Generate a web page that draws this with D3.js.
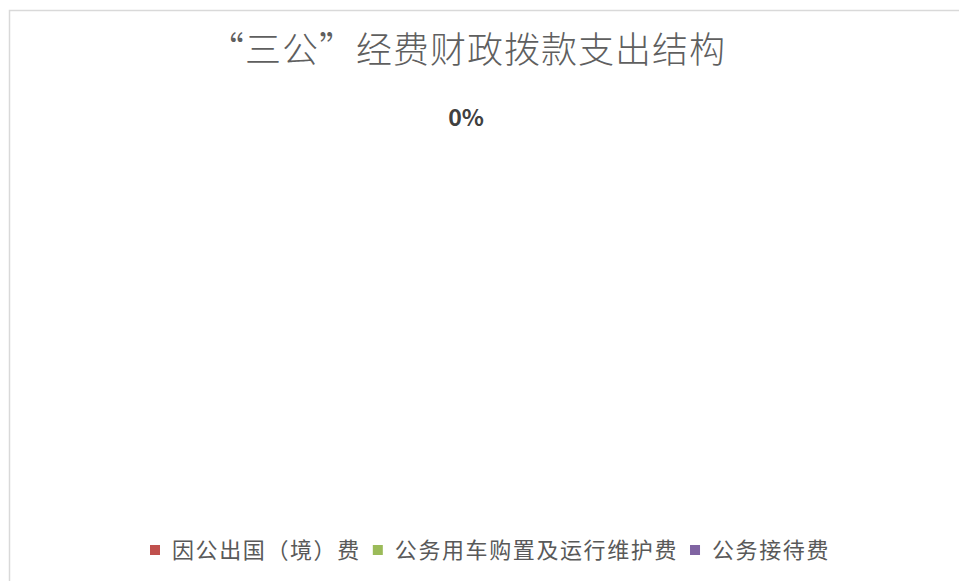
<!DOCTYPE html>
<html lang="zh">

<head>
  <meta charset="UTF-8">
  <title>“三公”经费财政拨款支出结构</title>
  <script src="https://d3js.org/d3.v7.min.js"></script>
  <style>
    body {
      margin: 0;
      background: #ffffff;
    }

    text {
      font-family: "Noto Sans CJK SC", "Noto Sans", sans-serif;
    }
  </style>
</head>

<body>
  <svg width="959" height="581"></svg>
  <script>
    // 数据
    const categories = ["因公出国（境）费", "公务用车购置及运行维护费", "公务接待费"];
    const values = [0, 0, 0];
    const colors = ["#C0504D", "#9BBB59", "#8064A2"];
    const titleText = "“三公”经费财政拨款支出结构";

    const svg = d3.select("svg"),
      width = +svg.attr("width"),
      height = +svg.attr("height");

    // 图表边框
    svg.append("path")
      .attr("d", "M9.5,581 V10.5 H959")
      .attr("fill", "none")
      .attr("stroke", "#d9d9d9")
      .attr("stroke-width", 1.5);

    // 标题
    svg.append("text")
      .attr("x", 467)
      .attr("y", 63)
      .attr("text-anchor", "middle")
      .attr("font-size", 36)
      .attr("font-weight", 300)
      .attr("letter-spacing", 1)
      .attr("fill", "#5f5f5f")
      .text(titleText);

    const cx = 466, cy = 315, r = 180;
    const data = categories.map((c, i) => ({ name: c, value: values[i], color: colors[i] }));

    const pie = d3.pie().value(d => d.value).sort(null);
    // 全部为 0 时 d3.pie 给出零宽扇区
    const arcs = pie(data);
    const arc = d3.arc().innerRadius(0).outerRadius(r);
    const labelArc = d3.arc().innerRadius(r + 17).outerRadius(r + 17);

    const g = svg.append("g").attr("transform", `translate(${cx},${cy})`);

    g.selectAll("path.slice")
      .data(arcs)
      .enter()
      .append("path")
      .attr("class", "slice")
      .attr("d", arc)
      .attr("fill", d => d.data.color)
      .attr("stroke", "#ffffff");

    const total = d3.sum(values);
    const seen = new Set();
    const labels = arcs.filter(d => {
      const key = labelArc.centroid(d).map(v => Math.round(v)).join(",");
      if (seen.has(key)) return false;
      seen.add(key);
      return true;
    });

    g.selectAll("text.label")
      .data(labels)
      .enter()
      .append("text")
      .attr("class", "label")
      .attr("transform", d => `translate(${labelArc.centroid(d)})`)
      .attr("text-anchor", "middle")
      .attr("dy", "0.35em")
      .attr("font-size", 23)
      .attr("font-weight", "bold")
      .attr("fill", "#404040")
      .text(d => d3.format(".0%")(total ? d.value / total : 0));

    // 图例
    const legend = svg.append("g").attr("transform", "translate(150,550)");
    let lx = 0;
    data.forEach(d => {
      const item = legend.append("g").attr("transform", `translate(${lx},0)`);
      item.append("rect")
        .attr("x", 0)
        .attr("y", -5)
        .attr("width", 10)
        .attr("height", 10)
        .attr("fill", d.color);
      const t = item.append("text")
        .attr("x", 22)
        .attr("dy", "0.35em")
        .attr("font-size", 22)
        .attr("letter-spacing", 1.6)
        .attr("fill", "#595959")
        .text(d.name);
      lx += 22 + t.node().getComputedTextLength() + 12;
    });
  </script>
</body>

</html>
